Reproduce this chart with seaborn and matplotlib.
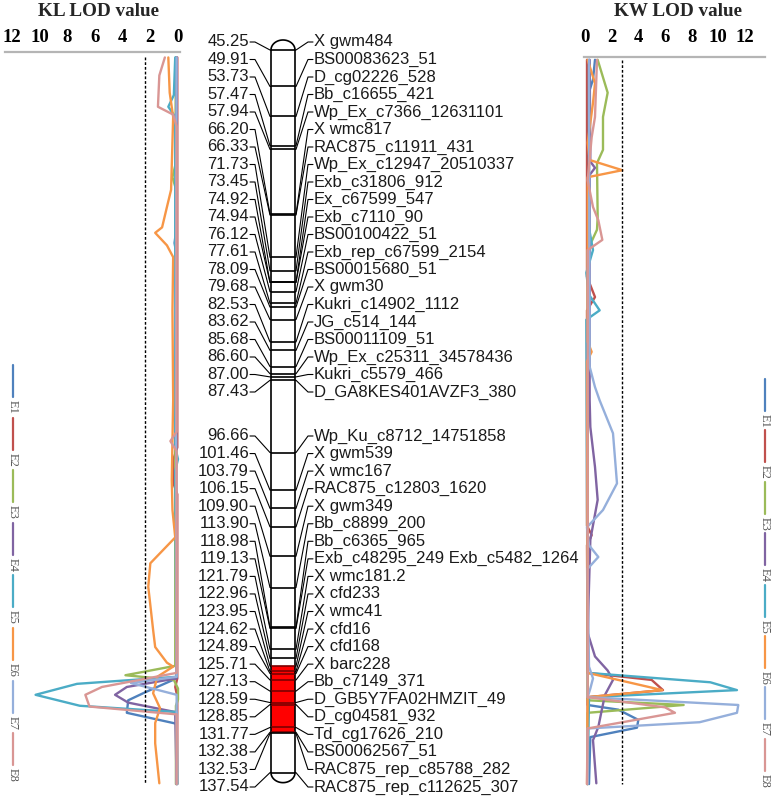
import matplotlib
matplotlib.use("Agg")
import matplotlib.pyplot as plt
import numpy as np
import pandas as pd
import seaborn as sns
from matplotlib.lines import Line2D

# linkage map: marker positions (cM) and names
marker_cm = [45.25, 49.91, 53.73, 57.47, 57.94, 66.20, 66.33, 71.73, 73.45, 74.92,
             74.94, 76.12, 77.61, 78.09, 79.68, 82.53, 83.62, 85.68, 86.60, 87.00,
             87.43, 96.66, 101.46, 103.79, 106.15, 109.90, 113.90, 118.98, 119.13,
             121.79, 122.96, 123.95, 124.62, 124.89, 125.71, 127.13, 128.59, 128.85,
             131.77, 132.38, 132.53, 137.54]
marker_names = ["X gwm484", "BS00083623_51", "D_cg02226_528", "Bb_c16655_421",
                "Wp_Ex_c7366_12631101", "X wmc817", "RAC875_c11911_431",
                "Wp_Ex_c12947_20510337", "Exb_c31806_912", "Ex_c67599_547",
                "Exb_c7110_90", "BS00100422_51", "Exb_rep_c67599_2154", "BS00015680_51",
                "X gwm30", "Kukri_c14902_1112", "JG_c514_144", "BS00011109_51",
                "Wp_Ex_c25311_34578436", "Kukri_c5579_466", "D_GA8KES401AVZF3_380",
                "Wp_Ku_c8712_14751858", "X gwm539", "X wmc167", "RAC875_c12803_1620",
                "X gwm349", "Bb_c8899_200", "Bb_c6365_965",
                "Exb_c48295_249 Exb_c5482_1264", "X wmc181.2", "X cfd233", "X wmc41",
                "X cfd16", "X cfd168", "X barc228", "Bb_c7149_371",
                "D_GB5Y7FA02HMZIT_49", "D_cg04581_932", "Td_cg17626_210",
                "BS00062567_51", "RAC875_rep_c85788_282", "RAC875_rep_c112625_307"]
first_group_size = 21
qtl_start, qtl_end = 123.95, 132.38

environments = ["E1", "E2", "E3", "E4", "E5", "E6", "E7", "E8"]
env_colors = ["#4F81BD", "#C0504D", "#9BBB59", "#8064A2",
              "#4BACC6", "#F79646", "#95AFDB", "#D99694"]
lod_ticks = [0, 2, 4, 6, 8, 10, 12]
kl_threshold = 2.4
kw_threshold = 2.8

# KL LOD profiles: (cM, LOD)
kl_e1 = [(46.2, 0.15), (60.0, 0.1), (68.5, 0.15), (69.9, 0.25), (71.5, 0.1), (100.0, 0.15),
         (125.5, 0.1), (127.3, 2.4), (128.3, 3.6), (129.9, 3.7), (131.3, 0.1), (139.0, 0.1)]
kl_e2 = [(46.2, 0.05), (96.0, 0.05), (97.6, 0.35), (100.5, 0.35), (102.0, 0.05),
         (125.5, 0.05), (126.6, 0.2), (127.8, 0.05), (139.0, 0.05)]
kl_e3 = [(46.2, 0.15), (60.0, 0.2), (61.5, 0.4), (63.0, 0.15), (100.0, 0.2), (123.9, 0.2),
         (125.1, 3.8), (125.7, 0.3), (126.8, 0.0), (128.2, 0.0), (129.0, 0.15), (139.0, 0.15)]
kl_e4 = [(46.2, 0.1), (90.0, 0.15), (110.0, 0.1), (125.5, 0.1), (126.6, 3.7), (127.6, 4.55),
         (128.6, 3.6), (129.8, 0.2), (139.0, 0.1)]
kl_e5 = [(46.2, 0.2), (51.0, 0.3), (52.5, 0.7), (53.8, 0.2), (96.0, 0.2), (97.5, 0.0),
         (99.0, 0.2), (125.3, 0.1), (126.2, 7.3), (127.6, 10.3), (129.0, 7.1), (129.8, 0.1),
         (139.0, 0.05)]
kl_e6 = [(46.2, 0.7), (50.7, 0.6), (53.8, 0.35), (63.1, 0.5), (65.3, 0.8), (67.9, 1.15),
         (68.6, 1.65), (70.2, 0.8), (71.7, 0.35), (78.5, 0.4), (90.0, 0.35), (100.2, 0.45),
         (104.0, 0.4), (107.5, 0.2), (110.8, 2.0), (113.8, 2.15), (119.3, 1.8), (121.5, 1.65),
         (123.5, 0.8), (124.0, 0.35), (125.3, 1.5), (127.4, 1.8), (129.3, 1.3), (131.2, 1.65),
         (133.8, 1.65), (138.9, 1.35)]
kl_e7 = [(46.2, 0.1), (80.0, 0.15), (125.3, 0.1), (126.1, 3.4), (127.6, 0.1), (139.0, 0.1)]
kl_e8 = [(46.2, 0.95), (48.5, 1.35), (52.5, 1.45), (53.5, 0.35), (55.0, 0.1), (94.0, 0.1),
         (95.2, 0.55), (96.5, 0.1), (124.8, 0.1), (126.6, 5.5), (127.6, 6.7), (129.1, 6.4),
         (130.1, 0.1), (139.0, 0.1)]

# KW LOD profiles: (cM, LOD)
kw_e1 = [(46.5, 0.75), (49.0, 0.6), (51.2, 0.2), (128.9, 0.2), (129.5, 2.5), (130.8, 4.0),
         (131.8, 3.9), (133.0, 0.4), (139.0, 0.3)]
kw_e2 = [(46.5, 0.15), (74.2, 0.15), (76.8, 0.75), (78.5, 0.15), (106.0, 0.15), (107.2, 0.5),
         (108.5, 0.15), (124.8, 0.2), (125.7, 5.0), (127.0, 5.85), (127.9, 0.2), (139.0, 0.2)]
kw_e3 = [(46.5, 0.95), (50.7, 1.7), (53.8, 1.35), (58.0, 1.35), (59.7, 0.9), (66.6, 0.95),
         (68.2, 0.9), (70.8, 0.2), (128.3, 0.2), (128.9, 7.4), (129.9, 0.2), (139.0, 0.2)]
kw_e4 = [(46.5, 0.35), (59.5, 0.4), (60.3, 0.75), (61.2, 0.35), (90.0, 0.35), (93.4, 0.4),
         (98.5, 0.75), (102.7, 0.95), (107.8, 0.4), (119.7, 0.2), (122.7, 0.75), (124.5, 1.7),
         (125.7, 2.1), (127.6, 1.5), (129.2, 1.3), (131.7, 1.0), (133.4, 0.6), (138.9, 0.85)]
kw_e5 = [(46.5, 0.3), (68.0, 0.3), (70.8, 0.6), (73.7, 0.1), (76.5, 0.3), (78.5, 1.1),
         (79.7, 0.1), (124.8, 0.2), (126.0, 9.4), (127.0, 11.4), (127.9, 0.3), (139.0, 0.2)]
kw_e6 = [(46.5, 0.2), (49.5, 0.75), (52.0, 0.6), (57.1, 0.2), (59.3, 0.35), (60.6, 2.8),
         (61.5, 0.2), (82.5, 0.2), (83.8, 0.5), (85.0, 0.15), (124.8, 0.2), (127.0, 5.8),
         (127.9, 0.2), (139.0, 0.15)]
kw_e7 = [(46.5, 0.3), (85.7, 0.35), (88.3, 0.75), (90.0, 1.1), (94.2, 2.1), (100.6, 2.4),
         (104.0, 1.35), (106.2, 0.15), (108.5, 0.3), (110.0, 1.0), (111.5, 0.2), (124.0, 0.3),
         (125.5, 0.6), (126.8, 0.4), (127.9, 0.2), (128.9, 11.5), (129.9, 11.4), (131.1, 8.6),
         (131.9, 0.2), (139.0, 0.2)]
kw_e8 = [(46.5, 0.9), (53.8, 0.75), (56.4, 0.5), (61.9, 0.2), (65.3, 0.6), (67.0, 1.0),
         (69.5, 1.3), (70.8, 0.2), (127.9, 0.2), (129.2, 6.0), (129.9, 6.75), (131.9, 0.2),
         (139.0, 0.15)]

kl_series = [kl_e1, kl_e2, kl_e3, kl_e4, kl_e5, kl_e6, kl_e7, kl_e8]
kw_series = [kw_e1, kw_e2, kw_e3, kw_e4, kw_e5, kw_e6, kw_e7, kw_e8]

W, H = 771, 802
PX_PER_CM = 7.83


def cm_at(y):
    # figure pixel row -> map position in cM (45.25 sits at row 50)
    return marker_cm[0] + (y - 50) / PX_PER_CM


def px_axes(fig, x0, y0, x1, y1):
    return fig.add_axes([x0 / W, 1 - y1 / H, (x1 - x0) / W, (y1 - y0) / H])


def profile_frame(series):
    rows = []
    for env, points in zip(environments, series):
        for cm, lod in points:
            rows.append({"env": env, "cm": cm, "lod": lod})
    return pd.DataFrame(rows)


sns.set_theme(style="white")
plt.rcParams["font.family"] = ["Liberation Sans", "DejaVu Sans"]
palette = dict(zip(environments, env_colors))
serif = ["Liberation Serif", "DejaVu Serif"]

fig = plt.figure(figsize=(W / 100, H / 100), dpi=100)

# LOD panels
panels = [
    ("KL LOD value", kl_series, kl_threshold, (5, 52, 180, 795),
     ((178 - 5) / 13.83, (178 - 180) / 13.83), 98, 4.5),
    ("KW LOD value", kw_series, kw_threshold, (584, 57, 765, 795),
     ((584 - 585) / 13.33, (765 - 585) / 13.33), 678, 8.0),
]
for title, series, thr, box, xlim, title_x, pad in panels:
    ax = px_axes(fig, *box)
    df = profile_frame(series)
    sns.lineplot(data=df, x="lod", y="cm", hue="env", palette=palette, orient="y",
                 estimator=None, sort=True, legend=False, linewidth=1.7, ax=ax)
    ax.vlines(thr, df["cm"].min(), df["cm"].max(), colors="black",
              linestyles=(0, (2, 1.4)), linewidth=1.0)
    ax.set_xlim(*xlim)
    ax.set_ylim(cm_at(box[3]), cm_at(box[1]))
    ax.set_xlabel("")
    ax.set_ylabel("")
    ax.set_yticks([])
    ax.xaxis.tick_top()
    ax.set_xticks(lod_ticks)
    ax.set_xticklabels([str(t) for t in lod_ticks], fontfamily=serif,
                       fontweight="bold", fontsize=13.5)
    ax.tick_params(axis="x", length=0, pad=pad, colors="black")
    for side in ["left", "right", "bottom"]:
        ax.spines[side].set_visible(False)
    ax.spines["top"].set_color("#b5b5b5")
    ax.spines["top"].set_linewidth(1.6)
    ax.patch.set_alpha(0)
    fig.text(title_x / W, 1 - 12 / H, title, ha="center", va="center",
             fontfamily=serif, fontweight="bold", fontsize=13.8)

# linkage map
ax = px_axes(fig, 180, 30, 590, 795)
ax.set_xlim(180, 590)
ax.set_ylim(cm_at(795), cm_at(30))
ax.axis("off")

chr_l, chr_r = 271, 295
top, bottom = marker_cm[0], marker_cm[-1]
cap = 10 / PX_PER_CM
ax.fill_betweenx([qtl_start, qtl_end], chr_l, chr_r, color="#FF0000", linewidth=0)
ax.vlines([chr_l, chr_r], top, bottom, colors="black", linewidth=1.2)
t = np.linspace(0, np.pi, 60)
cx, rx = (chr_l + chr_r) / 2, (chr_r - chr_l) / 2
ax.plot(cx + rx * np.cos(t), top - cap * np.sin(t), color="black", linewidth=1.2)
ax.plot(cx + rx * np.cos(t), bottom + cap * np.sin(t), color="black", linewidth=1.2)
for cm in marker_cm:
    in_qtl = qtl_start <= cm <= qtl_end
    ax.hlines(cm, chr_l, chr_r, colors="#7a0000" if in_qtl else "black", linewidth=1.2)

slots = [cm_at(42 + 17.5 * i) for i in range(first_group_size)]
slots += [cm_at(436 + 17.55 * j) for j in range(len(marker_cm) - first_group_size)]
for cm, name, slot in zip(marker_cm, marker_names, slots):
    ax.plot([250, 255, chr_l - 1, chr_l], [slot, slot, cm, cm], color="black", linewidth=0.8)
    ax.plot([chr_r, chr_r + 1, 308, 313], [cm, cm, slot, slot], color="black", linewidth=0.8)
    ax.text(249, slot, f"{cm:.2f}", ha="right", va="center", fontsize=12, color="#1a1a1a")
    ax.text(314, slot, name, ha="left", va="center", fontsize=12, color="#1a1a1a")

# vertical legends on both sides
for x_px, first_c, step in [(13, 407, 52.6), (765, 421, 51.4)]:
    for i, (env, col) in enumerate(zip(environments, env_colors)):
        c = first_c + i * step
        fig.add_artist(Line2D([x_px / W, x_px / W], [1 - (c - 42) / H, 1 - (c - 10) / H],
                              color=col, linewidth=1.6))
        fig.text(x_px / W, 1 - c / H, env, rotation=-90, ha="center", va="center",
                 fontfamily=serif, fontsize=9, color="#555555")

fig.savefig("out.png", dpi=100)
